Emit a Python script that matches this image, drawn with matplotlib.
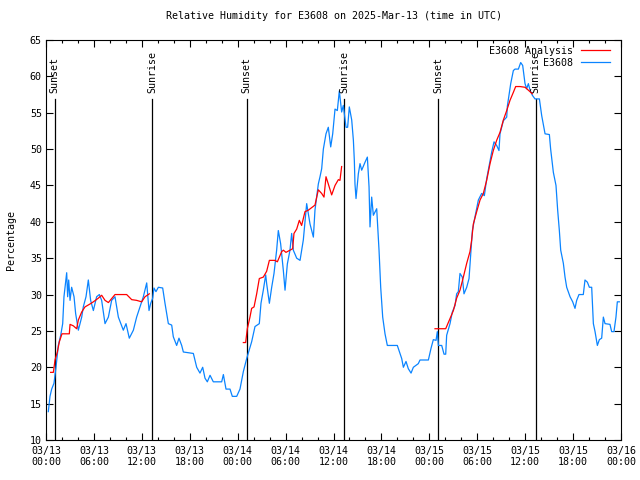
import matplotlib
matplotlib.use("Agg")
import matplotlib.pyplot as plt
from matplotlib.ticker import MultipleLocator

plt.rcParams['font.family'] = ['DejaVu Sans Mono']

title = "Relative Humidity for E3608 on 2025-Mar-13 (time in UTC)"

# hours since 2025-03-13 00:00 UTC
blue_t = [0.29, 0.50, 0.71, 1.00, 1.25, 1.54, 1.84, 2.09, 2.25, 2.59, 2.71, 2.84, 3.01, 3.21, 3.51,
          3.71, 4.05, 4.47, 4.67, 5.01, 5.30, 5.59, 5.93, 6.34, 6.68, 6.97, 7.39, 7.81, 8.22, 8.64,
          9.06, 9.68, 10.02, 10.43, 10.94, 11.35, 11.77, 12.19, 12.61, 12.90, 13.11, 13.36, 13.52,
          13.77, 14.07, 14.61, 14.90, 15.32, 15.74, 15.94, 16.36, 16.65, 16.99, 17.20, 18.45, 18.87,
          19.28, 19.62, 19.91, 20.20, 20.54, 20.95, 22.00, 22.21, 22.54, 23.04, 23.33, 23.88, 24.29,
          24.71, 25.13, 25.75, 26.17, 26.71, 26.92, 27.21, 27.51, 27.63, 27.97, 28.26, 28.55, 28.88,
          29.09, 29.38, 29.72, 29.93, 30.22, 30.55, 30.76, 30.97, 31.39, 31.81,
          32.22, 32.64, 33.06, 33.48, 33.68, 34.10, 34.31, 34.52, 34.73, 35.06, 35.35, 35.65, 35.90,
          36.19, 36.48, 36.73, 37.02, 37.23, 37.57, 37.77, 37.98, 38.28, 38.49, 38.61, 38.69, 38.82,
          39.11, 39.32, 39.53, 39.95, 40.24, 40.45, 40.57, 40.78, 40.99, 41.41, 41.70, 41.91, 42.16,
          42.45, 42.74, 43.99, 44.33, 44.54, 44.75, 45.08, 45.37, 45.71, 46.00, 46.62, 46.83, 47.88,
          48.21, 48.50, 48.84, 49.00, 49.13, 49.55, 49.84, 50.05, 50.17, 50.59, 50.88, 51.22, 51.42,
          51.63, 51.84, 52.13, 52.34, 52.68, 52.97, 53.18, 53.39, 53.72, 54.14, 54.55, 54.89, 55.18,
          55.51, 55.81, 56.10, 56.43, 56.72, 56.85, 57.27, 57.69, 57.77, 58.19, 58.52, 58.73, 59.15,
          59.44, 59.69, 59.98, 60.19, 60.40, 60.61, 60.90, 61.23, 61.78, 62.07, 62.49, 63.03, 63.19,
          63.53, 63.86, 64.07, 64.28, 64.45, 64.78, 64.99, 65.20, 65.62, 65.95, 66.24, 66.45, 66.74,
          67.28, 67.49, 67.79, 68.04, 68.33, 68.54, 68.75, 69.04, 69.29, 69.58, 69.79, 70.00, 70.62,
          70.83, 71.12, 71.37, 71.54, 71.79]
blue_v = [13.9, 16, 17, 17.8, 20, 23, 24.4, 26, 29.7, 33, 29.7, 32, 29.2, 31, 29.7,
          27.4, 25.1, 26.9, 28.3, 29.7, 32, 29.2, 27.8, 29.7, 30, 29.2, 26, 26.9, 29.2, 29.7,
          26.9, 25.1, 26, 24, 25.1, 26.9, 28.3, 29.7, 31.6, 27.8, 28.8, 29.5, 30.9,
          30.4, 31, 30.9, 28.8, 26, 25.8, 24.2, 23, 24, 23, 22.1, 21.9, 20,
          19.2, 20, 18.5, 18, 18.9, 18, 18, 19, 17, 17, 16, 16, 17,
          19.4, 21.2, 23.5, 25.6, 26, 28.8, 30.6, 32.7, 31.5, 28.8, 31, 32.9, 36.1,
          38.8, 37, 33.3, 30.6, 34.2, 36.1, 38.4, 36.1, 35, 34.7,
          37.5, 42.5, 39.7, 37.9, 41.6, 45.2, 46.2, 47.3, 50, 52.1, 53, 50.3, 52.1,
          55.5, 55.3, 58, 55.1, 56, 53, 53, 55.8, 54, 51.2, 48.4, 45.2, 43.2,
          46.6, 48, 47.1, 48.2, 48.9, 44.8, 39.3, 43.4, 40.9, 41.8, 36.1, 31, 26.9,
          24.6, 23, 23, 21.9, 21.2, 20, 20.8, 19.8, 19.2, 20, 20.5, 21, 21,
          22.6, 23.8, 23.7, 24.9, 23, 23, 21.8, 21.8, 24.4, 26, 27.6, 28.5, 30.1,
          30.4, 32.9, 32.4, 30.1, 31, 32.2, 35.6, 38.8, 40.7, 43, 43.9, 43.6, 45.9,
          47.8, 49.6, 51, 50.5, 49.8, 52.1, 53.9, 54.4, 55.9, 59, 60.8, 61, 61,
          61.9, 61.5, 59, 58.3, 59, 58.1, 57.4, 56.9, 56.9, 54.6, 52.1, 52, 50,
          46.8, 45, 41.6, 38.8, 36.1, 34.3, 32.4, 31, 29.7, 29, 28.1, 29.2, 30,
          30, 32, 31.7, 31, 31, 26, 24.9, 23, 23.8, 24, 26.9, 26, 25.9,
          24.9, 24.9, 26.9, 29, 29]

# analysis segments (nighttime)
red1_t = [0.58, 0.92, 1.13, 1.42, 1.67, 2.00, 2.92, 3.01, 3.42, 3.84, 4.05, 4.47, 4.88, 5.51, 5.93,
          6.55, 6.97, 7.39, 7.81, 8.64, 10.10, 10.73, 11.35, 11.98, 12.40, 12.94]
red1_v = [19.3, 19.3, 21, 22.1, 23.5, 24.6, 24.6, 25.9, 25.7, 25.3, 26.5, 27.6, 28.3, 28.7, 29,
          29.5, 29.9, 29.2, 28.9, 30, 30, 29.3, 29.2, 29, 29.7, 30.1]
red2_t = [24.71, 25.00, 25.21, 25.54, 25.75, 26.05, 26.38, 26.71, 27.21, 27.63, 27.97, 28.68, 28.97,
          29.51, 29.72, 30.05, 30.55, 30.89, 31.05, 31.39, 31.72, 32.01, 32.43, 32.85, 33.68, 34.10,
          34.52, 34.81, 35.06, 35.35, 35.77, 36.19, 36.61, 36.81, 37.02]
red2_v = [23.4, 23.4, 25.3, 26.9, 28.1, 28.3, 30.1, 32.2, 32.4, 33.2, 34.7, 34.7, 34.5,
          35.9, 36.1, 35.8, 36.1, 36.3, 38.4, 39, 40.2, 39.5, 41.4, 41.6, 42.3, 44.4,
          43.9, 43.4, 46.2, 45.2, 43.7, 45, 45.8, 45.7, 47.6]
red3_t = [48.71, 50.05, 50.59, 51.01, 51.42, 51.84, 52.26, 52.68, 53.09, 53.30, 53.51, 53.93, 54.35,
          54.76, 55.18, 55.60, 56.01, 56.43, 56.85, 57.27, 57.69, 58.10, 58.52, 58.81, 59.36, 59.98,
          60.40, 60.90]
red3_v = [25.3, 25.3, 26.7, 27.8, 29.5, 30.6, 32.4, 34.3, 35.9, 37.5, 39.7, 41.4, 43,
          43.9, 45.7, 48, 49.8, 51.2, 52.3, 54, 55.3, 56.7, 57.8, 58.6, 58.6, 58.5,
          58.1, 57.6]

sun_t = [1.07, 13.30, 25.13, 37.36, 49.13, 61.30]
sun_lbl = ["Sunset", "Sunrise", "Sunset", "Sunrise", "Sunset", "Sunrise"]

xticks = [0, 6, 12, 18, 24, 30, 36, 42, 48, 54, 60, 66, 72]
xlabels = ["03/13\n00:00", "03/13\n06:00", "03/13\n12:00", "03/13\n18:00",
           "03/14\n00:00", "03/14\n06:00", "03/14\n12:00", "03/14\n18:00",
           "03/15\n00:00", "03/15\n06:00", "03/15\n12:00", "03/15\n18:00",
           "03/16\n00:00"]

fig = plt.figure(figsize=(6.4, 4.8), dpi=100)
ax = fig.add_axes([46/640, 40/480, 575/640, 400/480])

red = '#ff0000'
blue = '#0a84ff'
lw = 0.9

for i, (st, sl) in enumerate(zip(sun_t, sun_lbl)):
    ax.plot([st, st], [10, 56.9], color='black', lw=lw, zorder=1)
    ax.text(st, 57.7, sl, rotation=90, ha='center', va='bottom', fontsize=7.2)

ax.plot(red1_t, red1_v, color=red, lw=lw, label='E3608 Analysis', zorder=3)
ax.plot(red2_t, red2_v, color=red, lw=lw, zorder=3)
ax.plot(red3_t, red3_v, color=red, lw=lw, zorder=3)
ax.plot(blue_t, blue_v, color=blue, lw=lw, label='E3608', zorder=2)

ax.set_xlim(0, 72)
ax.set_ylim(10, 65)
ax.set_xticks(xticks)
ax.set_xticklabels(xlabels)
ax.xaxis.set_minor_locator(MultipleLocator(2))
ax.yaxis.set_major_locator(MultipleLocator(5))
ax.tick_params(which='both', direction='in', top=True, right=True, labelsize=7.2, width=0.8)
ax.tick_params(which='major', length=5)
ax.tick_params(which='minor', length=2.5)
ax.tick_params(axis='x', pad=4)
ax.tick_params(axis='y', pad=3)
for s in ax.spines.values():
    s.set_linewidth(0.8)

ax.set_title(title, fontsize=7.2, pad=15)
ax.set_ylabel('Percentage', fontsize=7.2, labelpad=10)

leg = ax.legend(loc='upper right', frameon=False, markerfirst=False, fontsize=7.2,
                handlelength=2.9, handletextpad=0.8, labelspacing=0.2,
                borderaxespad=0.2, bbox_to_anchor=(0.992, 1.0))

fig.savefig('out.png', dpi=100)
